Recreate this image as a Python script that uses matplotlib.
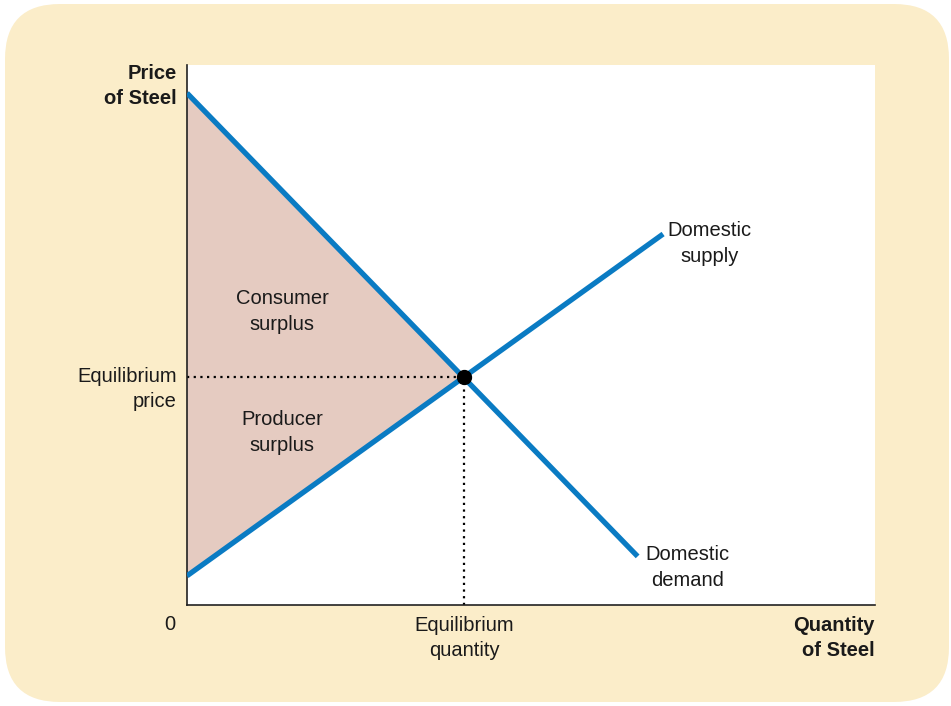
import matplotlib.pyplot as plt
from matplotlib.patches import FancyBboxPatch
from matplotlib.transforms import IdentityTransform

plt.rcParams['font.family'] = ['Liberation Sans', 'DejaVu Sans']

# Curve endpoints (x = quantity, y = price), axis runs 0..10 both ways
demand_q = [0.0, 6.55]
demand_p = [9.48, 0.90]
supply_q = [0.0, 6.92]
supply_p = [0.54, 6.87]
eq_q = 4.03
eq_p = 4.22

blue = '#0A7BC3'
surplus_color = '#E5CBC1'
panel_color = '#FBEDC9'

fig = plt.figure(figsize=(9.51, 7.06), dpi=100)
fig.patch.set_facecolor('white')

# rounded beige panel behind everything (pixel coords)
panel = FancyBboxPatch((5, 4), 944, 698,
                       boxstyle='round,pad=0,rounding_size=55',
                       transform=IdentityTransform(), facecolor=panel_color,
                       edgecolor='none', zorder=-1)
fig.patches.append(panel)

ax = fig.add_axes([187 / 951, 1 - 605 / 706, 688 / 951, 540 / 706])
ax.set_zorder(2)
ax.set_facecolor('white')
ax.set_xlim(0, 10)
ax.set_ylim(0, 10)
ax.set_xticks([])
ax.set_yticks([])
for side in ('top', 'right'):
    ax.spines[side].set_visible(False)
for side in ('left', 'bottom'):
    ax.spines[side].set_linewidth(1.2)
    ax.spines[side].set_color('#222222')

# surplus triangle: demand intercept, equilibrium, supply intercept
ax.fill([0, eq_q, 0], [demand_p[0], eq_p, supply_p[0]],
        color=surplus_color, lw=0, zorder=1)

# dotted guides to equilibrium
ax.plot([0, eq_q], [eq_p, eq_p], color='black', ls=(0, (1, 2)), lw=1.6, zorder=2)
ax.plot([eq_q, eq_q], [0, eq_p], color='black', ls=(0, (1, 2)), lw=1.6, zorder=2)

ax.plot(demand_q, demand_p, color=blue, lw=3.8, solid_capstyle='butt', zorder=3)
ax.plot(supply_q, supply_p, color=blue, lw=3.8, solid_capstyle='butt', zorder=3)
ax.plot([eq_q], [eq_p], 'o', color='black', ms=10, zorder=4)

fs = 14.5
txt = dict(fontsize=fs, color='#1a1a1a', clip_on=False, linespacing=1.45)

ax.text(-0.145, 9.61, 'Price\nof Steel', ha='right', va='center',
        fontweight='bold', **txt)
ax.text(-0.145, 4.0, 'Equilibrium\nprice', ha='right', va='center', **txt)
ax.text(-0.25, -0.37, '0', ha='center', va='center', **txt)
ax.text(eq_q, -0.61, 'Equilibrium\nquantity', ha='center', va='center', **txt)
ax.text(10, -0.61, 'Quantity\nof Steel', ha='right', va='center',
        fontweight='bold', **txt)
ax.text(1.38, 5.43, 'Consumer\nsurplus', ha='center', va='center', **txt)
ax.text(1.38, 3.2, 'Producer\nsurplus', ha='center', va='center', **txt)
ax.text(6.98, 6.69, 'Domestic\nsupply', ha='left', va='center',
        multialignment='center', **txt)
ax.text(6.66, 0.69, 'Domestic\ndemand', ha='left', va='center',
        multialignment='center', **txt)

fig.savefig('out.png', dpi=100)
